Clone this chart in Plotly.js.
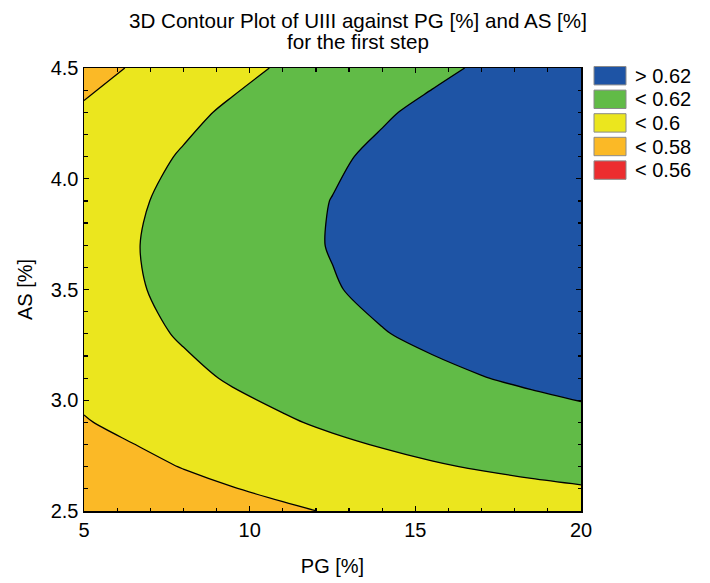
<!DOCTYPE html>
<html>
<head>
<meta charset="utf-8">
<script src="https://cdn.plot.ly/plotly-3.0.1.min.js"></script>
<style>
  html, body { margin: 0; padding: 0; background: #ffffff; }
  #chart { width: 710px; height: 583px; }
</style>
</head>
<body>
<div id="chart"></div>
<script>
// PG [%] grid (columns)
var pgValues = [5, 6.5, 8, 9.5, 11, 12.5, 14, 15.5, 17, 18.5, 20];
// AS [%] grid (rows)
var asValues = [2.5, 2.7, 2.9, 3.1, 3.3, 3.5, 3.7, 3.9, 4.1, 4.3, 4.5];
// UIII response, one row per AS value
var uiiiValues = [
  [0.5602, 0.5647, 0.5696, 0.5739, 0.5776, 0.5811, 0.5841, 0.5866, 0.5888, 0.5908, 0.5925],
  [0.5698, 0.5755, 0.5806, 0.5851, 0.5890, 0.5927, 0.5959, 0.5987, 0.6011, 0.6033, 0.6052],
  [0.5790, 0.5842, 0.5896, 0.5943, 0.5984, 0.6023, 0.6057, 0.6087, 0.6113, 0.6137, 0.6159],
  [0.5849, 0.5910, 0.5965, 0.6015, 0.6058, 0.6099, 0.6135, 0.6168, 0.6196, 0.6222, 0.6246],
  [0.5894, 0.5957, 0.6015, 0.6066, 0.6112, 0.6155, 0.6194, 0.6228, 0.6259, 0.6287, 0.6313],
  [0.5919, 0.5984, 0.6044, 0.6098, 0.6146, 0.6191, 0.6232, 0.6269, 0.6301, 0.6332, 0.6360],
  [0.5924, 0.5992, 0.6054, 0.6110, 0.6160, 0.6207, 0.6250, 0.6289, 0.6324, 0.6357, 0.6387],
  [0.5910, 0.5979, 0.6044, 0.6102, 0.6154, 0.6203, 0.6249, 0.6290, 0.6327, 0.6361, 0.6394],
  [0.5875, 0.5947, 0.6013, 0.6074, 0.6128, 0.6179, 0.6227, 0.6270, 0.6309, 0.6346, 0.6381],
  [0.5820, 0.5894, 0.5963, 0.6025, 0.6082, 0.6135, 0.6185, 0.6231, 0.6272, 0.6311, 0.6348],
  [0.5745, 0.5812, 0.5892, 0.5957, 0.6016, 0.6071, 0.6124, 0.6171, 0.6215, 0.6256, 0.6295]
];
// contour levels and legend entries (top to bottom)
var levelStart = 0.56, levelEnd = 0.62, levelStep = 0.02;
var legendLabels = ['> 0.62', '< 0.62', '< 0.6', '< 0.58', '< 0.56'];
var legendColors = ['#1e54a5', '#61bb47', '#ebe61e', '#fbb926', '#ec2d2f'];
var xTicks = [5, 10, 15, 20];
var yTicks = [2.5, 3.0, 3.5, 4.0, 4.5];
var titleLines = ['3D Contour Plot of UIII against PG [%] and AS [%]', 'for the first step'];

// band colours, lowest band first
var red = legendColors[4], orange = legendColors[3], yellow = legendColors[2],
    green = legendColors[1], blue = legendColors[0];
var colorscale = [
  [0, red], [0.125, red],
  [0.125, orange], [0.375, orange],
  [0.375, yellow], [0.625, yellow],
  [0.625, green], [0.875, green],
  [0.875, blue], [1, blue]
];

var W = 710, H = 583;
var M = {l: 84, r: 129, t: 68, b: 72};
var plotW = W - M.l - M.r, plotH = H - M.t - M.b;
function px2x(px) { return (px - M.l) / plotW; }
function py2y(py) { return (H - M.b - py) / plotH; }

var trace = {
  type: 'contour',
  x: pgValues,
  y: asValues,
  z: uiiiValues,
  autocontour: false,
  contours: {start: levelStart, end: levelEnd, size: levelStep, coloring: 'fill', showlines: true},
  colorscale: colorscale,
  showscale: false,
  line: {color: '#000000', width: 1.3, smoothing: 0.85},
  hoverinfo: 'skip'
};

var font = {family: 'Arial, "Liberation Sans", sans-serif', size: 20, color: '#000000'};
var titleFont = Object.assign({}, font, {size: 20.6});

var shapes = [], annotations = [];
for (var i = 0; i < legendLabels.length; i++) {
  var boxTop = 66.5 + i * 23.6;
  shapes.push({
    type: 'rect', xref: 'paper', yref: 'paper',
    x0: px2x(594), x1: px2x(626), y0: py2y(boxTop), y1: py2y(boxTop + 18.4),
    fillcolor: legendColors[i], line: {color: '#8a8a8a', width: 1}
  });
  annotations.push({
    xref: 'paper', yref: 'paper', x: px2x(633), y: py2y(boxTop + 9.2),
    xanchor: 'left', yanchor: 'middle', showarrow: false,
    text: legendLabels[i], font: font
  });
}
annotations.push({
  xref: 'paper', yref: 'paper', x: px2x(358), y: py2y(20),
  xanchor: 'center', yanchor: 'middle', showarrow: false,
  text: titleLines[0], font: titleFont
});
annotations.push({
  xref: 'paper', yref: 'paper', x: px2x(358), y: py2y(41),
  xanchor: 'center', yanchor: 'middle', showarrow: false,
  text: titleLines[1], font: titleFont
});

var axisCommon = {
  showgrid: false, zeroline: false,
  showline: true, linecolor: '#000000', linewidth: 1.5, mirror: 'ticks',
  ticks: 'inside', ticklen: 5, tickwidth: 1.3, tickcolor: '#000000',
  tickfont: font
};

var layout = {
  width: W, height: H,
  margin: M,
  paper_bgcolor: '#ffffff', plot_bgcolor: '#ffffff',
  font: font,
  showlegend: false,
  xaxis: Object.assign({}, axisCommon, {
    range: [5, 20], tickmode: 'array', tickvals: xTicks,
    minor: {dtick: 1, ticks: 'inside', ticklen: 3.5, tickwidth: 1.2, tickcolor: '#000000', showgrid: false},
    title: {text: 'PG [%]', font: font, standoff: 19}
  }),
  yaxis: Object.assign({}, axisCommon, {
    range: [2.5, 4.5], tickmode: 'array', tickvals: yTicks, tickformat: '.1f',
    minor: {dtick: 0.1, ticks: 'inside', ticklen: 3.5, tickwidth: 1.2, tickcolor: '#000000', showgrid: false},
    title: {text: 'AS [%]', font: font, standoff: 12}
  }),
  shapes: shapes,
  annotations: annotations
};

Plotly.newPlot('chart', [trace], layout, {displayModeBar: false, staticPlot: true});
</script>
</body>
</html>
